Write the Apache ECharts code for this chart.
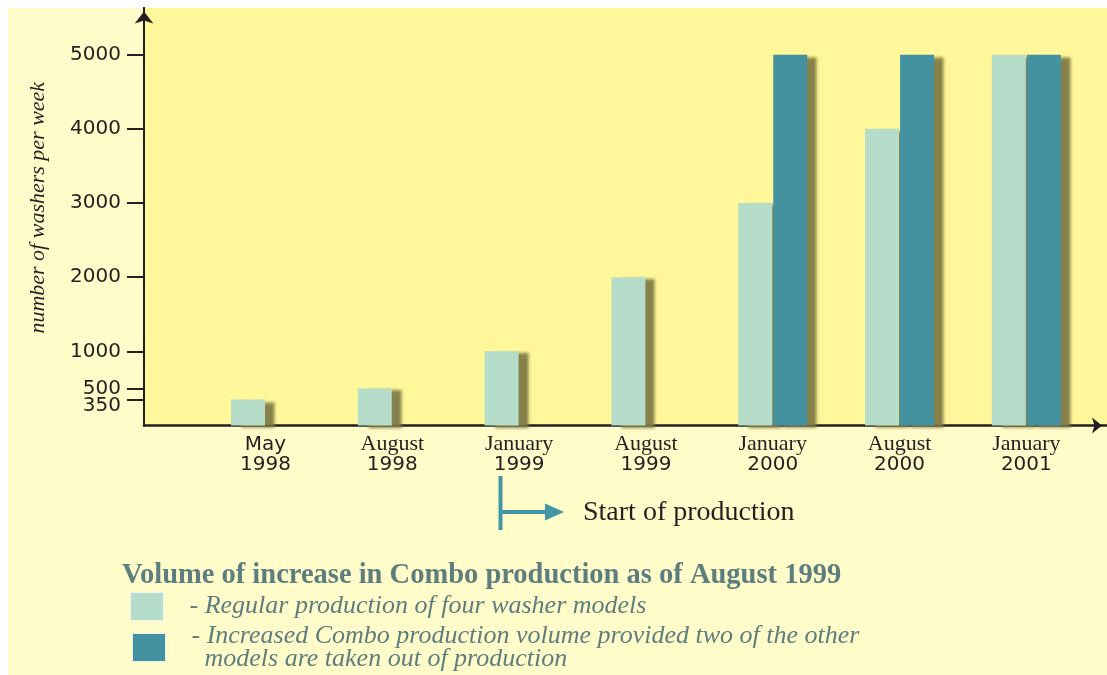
<!DOCTYPE html>
<html>
<head>
<meta charset="utf-8">
<title>Washer production volume</title>
<script src="https://cdn.jsdelivr.net/npm/echarts@6/dist/echarts.min.js"></script>
<style>
  html, body { margin: 0; padding: 0; background: #ffffff; }
  #panel { position: absolute; left: 8px; top: 8px; width: 1099px; height: 667px; background: #FFFCCA; }
  #chart { position: absolute; left: 0; top: 0; width: 1107px; height: 675px; }
</style>
</head>
<body>
<div id="panel"></div>
<div id="chart"></div>
<script>
// Period labels (two lines each: month over year)
const months = ['May', 'August', 'January', 'August', 'January', 'August', 'January'];
const years  = ['1998', '1998', '1999', '1999', '2000', '2000', '2001'];

// Washers per week
const regular = [350, 500, 1000, 2000, 3000, 4000, 5000];
const combo   = [null, null, null, null, 5000, 5000, 5000];

// Marked values on the vertical axis; the lowest one gets its own axis
// so its label can sit just below the tick without crowding 500
const yTicks    = [500, 1000, 2000, 3000, 4000, 5000];
const yTicksLow = [350];

const seriesNames = ['Regular production of four washer models', 'Increased Combo production volume'];
const legendTexts = [
  '- Regular production of four washer models',
  '- Increased Combo production volume provided two of the other\n  models are taken out of production'
];

const INK = '#231F20';
const LIGHT = '#B6DCCA';
const DARK = '#44919F';
const TEAL = '#4296A3';
const NOTE = '#5C7E7E';
const Y_MAX = 5630;

const barStyle = (color) => ({
  color: color,
  shadowColor: 'rgba(128,122,70,0.95)',
  shadowBlur: 3,
  shadowOffsetX: 10,
  shadowOffsetY: 2
});

const toPoints = (arr) => arr.map((v, i) => (v == null ? null : [i, v])).filter(Boolean);

// One legend block per key, stacked under the heading
const legendBlock = (idx, left, top) => ({
  orient: 'vertical',
  left: left,
  top: top,
  padding: 0,
  itemWidth: 33,
  itemHeight: 28,
  selectedMode: false,
  icon: 'rect',
  data: [seriesNames[idx]],
  formatter: () => legendTexts[idx],
  itemStyle: { borderColor: 'rgba(236,246,246,0.9)', borderWidth: 1, shadowBlur: 0, shadowOffsetX: 0, shadowOffsetY: 0 },
  textStyle: {
    fontFamily: '"Liberation Serif", serif',
    fontStyle: 'italic',
    fontSize: 26,
    lineHeight: 23,
    color: NOTE,
    padding: [0, 0, 0, 21]
  }
});

const tickFont = { fontFamily: '"DejaVu Sans", sans-serif', fontSize: 20, color: INK };

const chart = echarts.init(document.getElementById('chart'), null, { renderer: 'canvas' });

chart.setOption({
  animation: false,
  title: {
    text: 'Volume of increase in Combo production as of August 1999',
    left: 122,
    top: 561,
    padding: 0,
    textStyle: {
      fontFamily: '"Liberation Serif", serif',
      fontWeight: 'bold',
      fontSize: 28.5,
      lineHeight: 29,
      color: NOTE
    }
  },
  legend: [legendBlock(0, 130, 592), legendBlock(1, 132, 623)],
  grid: {
    left: 144,
    top: 8,
    right: 0,
    bottom: 249.5,
    show: true,
    backgroundColor: '#FFF799',
    borderWidth: 0
  },
  xAxis: {
    type: 'value',
    min: -0.958,
    max: 6.636,
    splitLine: { show: false },
    axisTick: { show: false },
    axisLine: {
      show: true,
      onZero: false,
      symbol: ['none', 'arrow'],
      symbolSize: [12, 10],
      symbolOffset: [0, -5],
      lineStyle: { color: INK, width: 2.5 }
    },
    axisLabel: {
      customValues: months.map((m, i) => i),
      showMinLabel: true,
      showMaxLabel: true,
      margin: 9,
      formatter: (v) => {
        const m = months[v];
        return '{' + (m === 'May' ? 'ms' : 'm') + '|' + m + '}\n{y|' + years[v] + '}';
      },
      rich: {
        m: { fontFamily: '"Liberation Serif", serif', fontSize: 22, lineHeight: 20, color: INK },
        ms: { fontFamily: '"DejaVu Sans", sans-serif', fontSize: 20, lineHeight: 20, color: INK },
        y: { fontFamily: '"DejaVu Sans", sans-serif', fontSize: 20, lineHeight: 20, color: INK }
      }
    }
  },
  yAxis: [
    {
      type: 'value',
      min: 0,
      max: Y_MAX,
      name: 'number of washers per week',
      nameLocation: 'middle',
      nameRotate: 90,
      nameGap: 95,
      nameTextStyle: {
        fontFamily: '"Liberation Serif", serif',
        fontStyle: 'italic',
        fontSize: 22,
        color: INK,
        padding: [0, 0, 0, 18]
      },
      splitLine: { show: false },
      axisLine: {
        show: true,
        onZero: false,
        symbol: ['none', 'arrow'],
        symbolSize: [14, 12],
        symbolOffset: [0, -3.5],
        lineStyle: { color: INK, width: 2 }
      },
      axisTick: {
        show: true,
        inside: false,
        length: 17,
        customValues: yTicks,
        lineStyle: { color: INK, width: 2 }
      },
      axisLabel: {
        customValues: yTicks,
        showMinLabel: true,
        showMaxLabel: true,
        margin: 23,
        formatter: (v) => '{n|' + v + '}',
        rich: { n: tickFont }
      }
    },
    {
      type: 'value',
      position: 'left',
      offset: 0,
      min: 0,
      max: Y_MAX,
      splitLine: { show: false },
      axisLine: {
        show: true,
        onZero: false,
        lineStyle: { color: INK, width: 2 }
      },
      axisTick: {
        show: true,
        inside: false,
        length: 17,
        customValues: yTicksLow,
        lineStyle: { color: INK, width: 2 }
      },
      axisLabel: {
        customValues: yTicksLow,
        showMinLabel: true,
        showMaxLabel: true,
        margin: 23,
        formatter: (v) => '{low|' + v + '}',
        rich: { low: Object.assign({ padding: [13, 0, 0, 0] }, tickFont) }
      }
    }
  ],
  series: [
    {
      name: seriesNames[0],
      type: 'bar',
      barWidth: 34,
      barGap: '3%',
      itemStyle: barStyle(LIGHT),
      data: toPoints(regular)
    },
    {
      name: seriesNames[1],
      type: 'bar',
      barWidth: 34,
      barGap: '3%',
      itemStyle: barStyle(DARK),
      data: toPoints(combo)
    }
  ],
  graphic: [
    { type: 'line', shape: { x1: 500.5, y1: 476, x2: 500.5, y2: 530 }, style: { stroke: TEAL, lineWidth: 4 } },
    { type: 'line', shape: { x1: 502, y1: 512, x2: 547, y2: 512 }, style: { stroke: TEAL, lineWidth: 4 } },
    { type: 'polygon', shape: { points: [[545, 503.5], [564, 512], [545, 520.5]] }, style: { fill: TEAL } },
    {
      type: 'text', x: 583, y: 513,
      style: { text: 'Start of production', font: '28px "Liberation Serif", serif', fill: INK, verticalAlign: 'middle' }
    }
  ]
});
</script>
</body>
</html>
